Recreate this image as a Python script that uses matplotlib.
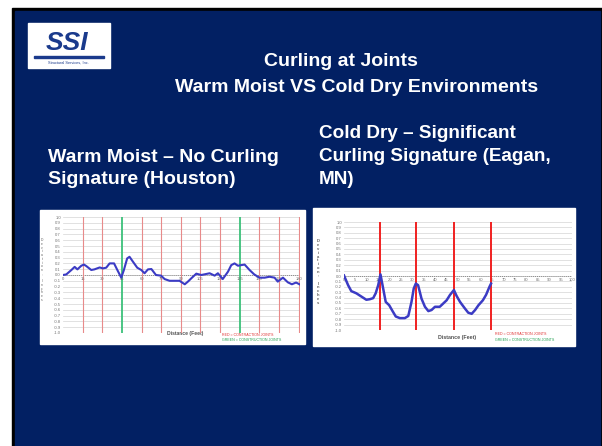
import numpy as np
import matplotlib.pyplot as plt
from matplotlib.patches import Rectangle

plt.rcParams['font.family'] = ['Liberation Sans', 'DejaVu Sans']

W, H = 602, 446
SLIDE_BLUE = '#022063'
LINE_BLUE = '#3b3bc4'

# Houston (warm moist) profile, deviation in inches vs distance in feet
houston_ft = [0, 2.5, 6.4, 8.9, 11, 14, 16, 17.8, 21.6, 24, 28, 30.5, 33, 35.6, 39, 41.5,
              44.5, 46.5, 49, 50.8, 53.4, 56.7, 59.8, 62.3, 64.9, 67.5, 71, 74.9, 77.6,
              81.4, 85, 89, 93, 95.4, 98.5, 101.8, 105.6, 108, 112, 115.8, 118.3, 122,
              126, 128.5, 131, 133.6, 136, 138.7, 142.5, 146, 150, 154, 157.7, 161.6,
              164, 168, 171.7, 174.8, 178, 180.6]
houston_dev = [0.0, 0.01, 0.086, 0.14, 0.097, 0.16, 0.18, 0.154, 0.086, 0.097, 0.13, 0.114,
               0.126, 0.2, 0.2, 0.086, -0.046, 0.086, 0.286, 0.314, 0.23, 0.126, 0.086,
               0.03, 0.097, 0.103, 0.0, -0.011, -0.07, -0.10, -0.10, -0.10, -0.16, -0.114,
               -0.046, 0.023, 0.0, 0.011, 0.03, -0.011, 0.03, -0.07, 0.057, 0.17, 0.2,
               0.16, 0.17, 0.18, 0.086, 0.011, -0.046, -0.046, -0.03, -0.046, -0.114,
               -0.046, -0.126, -0.16, -0.13, -0.16]
houston_joints = [15, 30, 45, 60, 75, 90, 105, 120, 135, 150, 165, 180]
houston_kind = ['c', 'c', 's', 'c', 'c', 'c', 'c', 'c', 's', 'c', 'c', 'c']
houston_xticks = list(range(0, 181, 15))

# Eagan, MN (cold dry) profile
eagan_ft = [0, 1.8, 3.2, 5.4, 7.6, 9.8, 11.3, 12.8, 13.9, 15, 16, 16.9, 18.3, 19.8, 21.3,
            22.7, 24.5, 26.7, 28.2, 29.6, 30.6, 31.5, 32.5, 34, 35.5, 37, 38.4, 39.9, 42,
            43.5, 45, 46.5, 48.2, 49.4, 50.9, 53, 54.5, 56, 57.5, 59, 60.9, 62.3, 63.8, 64.5]
eagan_dev = [0.01, -0.17, -0.28, -0.32, -0.38, -0.44, -0.43, -0.41, -0.32, -0.17, 0.03,
             -0.17, -0.48, -0.54, -0.65, -0.75, -0.78, -0.78, -0.74, -0.48, -0.23, -0.14,
             -0.17, -0.42, -0.57, -0.65, -0.63, -0.57, -0.57, -0.51, -0.45, -0.35, -0.26,
             -0.37, -0.48, -0.60, -0.68, -0.70, -0.63, -0.54, -0.45, -0.35, -0.2, -0.14]
eagan_joints = [16, 31.5, 48.2, 64.5]
eagan_xticks = list(range(0, 101, 5))

y_ticks = [round(v, 1) for v in np.arange(1.0, -1.05, -0.1)]

fig = plt.figure(figsize=(W / 100, H / 100), dpi=100)

# slide background drawn in pixel coordinates
bg = fig.add_axes([0, 0, 1, 1])
bg.set_xlim(0, W)
bg.set_ylim(H, 0)
bg.axis('off')
bg.add_patch(Rectangle((0, 0), W, H, color='white'))
bg.add_patch(Rectangle((12, 8), W - 12, H - 8, color='black'))
bg.add_patch(Rectangle((15, 11), 585, H - 11, color=SLIDE_BLUE))

# logo
bg.add_patch(Rectangle((28, 23), 82, 45, color='white'))
bg.text(67, 43, 'SSI', color='#1a3a8c', fontsize=19, fontweight='bold',
        ha='center', va='center', fontstyle='italic')
bg.add_patch(Rectangle((34, 56), 70, 2, color='#1a3a8c'))
bg.text(68, 63, 'Structural Services, Inc.', color='#1a3a8c', fontsize=2.8,
        ha='center', va='center')

# titles
bg.text(341, 62, 'Curling at Joints', color='white', fontsize=14, fontweight='bold',
        ha='center', va='center')
bg.text(357, 88, 'Warm Moist VS Cold Dry Environments', color='white', fontsize=14,
        fontweight='bold', ha='center', va='center')
bg.text(48, 168.5, 'Warm Moist \u2013 No Curling\nSignature (Houston)', color='white',
        fontsize=14, fontweight='bold', ha='left', va='center', linespacing=1.38)
bg.text(319, 156.5, 'Cold Dry \u2013 Significant\nCurling Signature (Eagan,\nMN)',
        color='white', fontsize=13.6, fontweight='bold', ha='left', va='center',
        linespacing=1.45)

# white chart panels
bg.add_patch(Rectangle((40, 210), 265, 134, color='white'))
bg.add_patch(Rectangle((313, 208), 262, 138, color='white'))


def px_axes(x0, y0, x1, y1):
    return fig.add_axes([x0 / W, 1 - y1 / H, (x1 - x0) / W, (y1 - y0) / H])


def style_chart(ax, xmax, xticks, labelsize):
    ax.set_xlim(0, xmax)
    ax.set_ylim(-1.0, 1.0)
    ax.set_facecolor('none')
    for y in y_ticks:
        ax.axhline(y, color='#d4d4d4', lw=0.5, zorder=0)
    ax.axhline(0, color='#8a8a8a', lw=0.7, ls=(0, (1, 1)), zorder=1)
    for s in ['top', 'right', 'left']:
        ax.spines[s].set_visible(False)
    ax.spines['bottom'].set_position(('data', 0))
    ax.spines['bottom'].set_visible(False)
    ax.set_yticks(y_ticks)
    ax.set_yticklabels([f'{v:.1f}' for v in y_ticks])
    ax.set_xticks(xticks)
    ax.tick_params(axis='both', length=0, labelsize=labelsize, colors='#707070', pad=1.5)


# Houston chart
ax1 = px_axes(63, 217, 300, 333)
style_chart(ax1, 181, houston_xticks, 3.0)
for x, k in zip(houston_joints, houston_kind):
    if k == 's':
        ax1.axvline(x, color='#3cc07a', lw=1.3, zorder=1)
    else:
        ax1.axvline(x, color='#e88a8a', lw=0.8, zorder=1)
ax1.plot(houston_ft, houston_dev, color=LINE_BLUE, lw=1.5, zorder=3)
bg.text(42, 270, '\n'.join('Deviation, Inches'), fontsize=2.4, color='#606060',
        ha='center', va='center', linespacing=0.9)
bg.text(185, 334, 'Distance (Feet)', fontsize=3.6, color='#505050', ha='center',
        va='center', fontweight='bold')
bg.text(222, 335, 'RED = CONTRACTION JOINTS', fontsize=2.6, color='#e03030',
        ha='left', va='center')
bg.text(222, 340, 'GREEN = CONSTRUCTION JOINTS', fontsize=2.6, color='#20a050',
        ha='left', va='center')

# Eagan chart
ax2 = px_axes(344, 222, 572, 330)
style_chart(ax2, 100, eagan_xticks, 3.0)
for x in eagan_joints:
    ax2.axvline(x, color='#f02020', lw=1.4, zorder=2)
ax2.plot(eagan_ft, eagan_dev, color=LINE_BLUE, lw=1.8, zorder=3)
bg.text(318, 272, '\n'.join('Deviation, Inches'), fontsize=3.0, color='#606060',
        ha='center', va='center', linespacing=0.95, fontweight='bold')
bg.text(457, 338, 'Distance (Feet)', fontsize=3.8, color='#505050', ha='center',
        va='center', fontweight='bold')
bg.text(495, 334, 'RED = CONTRACTION JOINTS', fontsize=2.6, color='#e03030',
        ha='left', va='center')
bg.text(495, 340, 'GREEN = CONSTRUCTION JOINTS', fontsize=2.6, color='#20a050',
        ha='left', va='center')

fig.savefig('out.png', dpi=100)
